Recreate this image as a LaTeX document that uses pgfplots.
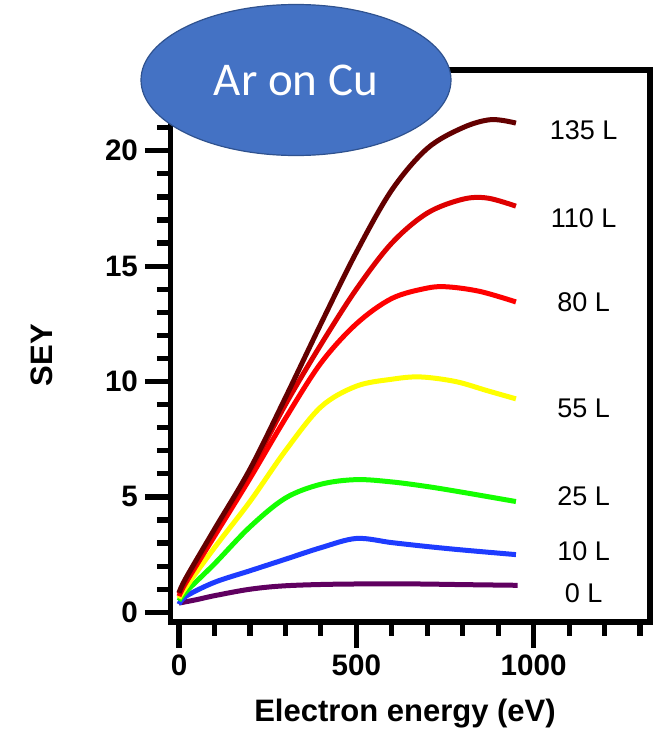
\documentclass[border=0pt]{standalone}
\usepackage{fontspec}
\setmainfont{Liberation Sans}
\newfontfamily\calibri{Carlito}
\usepackage{pgfplots}
\pgfplotsset{compat=1.18}
\definecolor{cA}{RGB}{100,0,0}
\definecolor{cB}{RGB}{222,0,0}
\definecolor{cC}{RGB}{255,0,0}
\definecolor{cD}{RGB}{255,255,0}
\definecolor{cE}{RGB}{20,255,0}
\definecolor{cF}{RGB}{30,60,255}
\definecolor{cG}{RGB}{96,0,96}
\definecolor{ellblue}{RGB}{68,114,196}
\definecolor{elledge}{RGB}{47,82,143}
\begin{document}
\begin{tikzpicture}
\begin{axis}[
  scale only axis, width=239.75pt, height=276pt,
  at={(0,0)}, anchor=south west,
  xmin=-24, xmax=1328, ymin=-0.42, ymax=23.5,
  axis line style={line width=2.6pt},
  xtick={0,500,1000}, minor xtick={100,200,...,1300},
  ytick={0,5,...,20}, minor ytick={1,...,23},
  xtick pos=left, ytick pos=left,
  tick align=outside,
  major tick length=12.75pt, minor tick length=6.75pt,
  every tick/.style={black, line width=2.6pt},
  /pgf/number format/assume math mode=true,
  /pgf/number format/1000 sep={},
  tick label style={font=\bfseries\fontsize{14.8}{15}\selectfont},
  every axis plot/.append style={line width=2.5pt, smooth, tension=0.55},
]
\addplot[cG] coordinates {(0,0.4) (50,0.55) (100,0.72) (200,1.0) (300,1.15) (450,1.22) (650,1.23) (800,1.2) (955,1.17)};
\addplot[cF] coordinates {(0,0.35) (20,0.7) (100,1.3) (200,1.8) (300,2.3) (400,2.8) (500,3.2) (600,3.02) (700,2.85) (800,2.7) (950,2.5)};
\addplot[cE] coordinates {(0,0.5) (20,0.9) (100,2.1) (200,3.7) (300,4.95) (400,5.55) (500,5.75) (600,5.65) (700,5.45) (800,5.2) (950,4.8)};
\addplot[cD] coordinates {(0,0.6) (20,1.1) (100,2.8) (200,4.8) (300,7.0) (400,8.9) (500,9.8) (600,10.1) (680,10.2) (780,10.0) (870,9.6) (950,9.25)};
\addplot[cC] coordinates {(0,0.7) (20,1.3) (100,3.3) (200,5.8) (300,8.4) (400,10.8) (500,12.5) (600,13.6) (700,14.05) (760,14.1) (850,13.9) (950,13.45)};
\addplot[cB] coordinates {(0,0.8) (20,1.4) (100,3.5) (200,6.1) (300,9.0) (400,11.6) (500,14.0) (600,16.0) (700,17.3) (800,17.9) (870,17.95) (950,17.6)};
\addplot[cA] coordinates {(0,0.85) (20,1.5) (100,3.6) (200,6.2) (300,9.3) (400,12.5) (500,15.6) (600,18.3) (700,20.1) (800,21.0) (880,21.35) (950,21.2)};
\begin{scope}[font=\fontsize{13.5}{14}\selectfont]
\node at (axis cs:1141,20.87) {135 L};
\node at (axis cs:1141,17.06) {110 L};
\node at (axis cs:1141,13.42) {80 L};
\node at (axis cs:1141,8.83) {55 L};
\node at (axis cs:1141,5.02) {25 L};
\node at (axis cs:1141,2.64) {10 L};
\node at (axis cs:1141,0.82) {0 L};
\end{scope}
\end{axis}
\node[rotate=90, font=\bfseries\fontsize{15.5}{16}\selectfont] at (-64.25pt,133.5pt) {SEY};
\node[font=\bfseries\fontsize{15.5}{16}\selectfont] at (117.25pt,-46pt) {Electron energy (eV)};
\draw[fill=ellblue, draw=elledge, line width=0.6pt] (62.75pt,271pt) ellipse [x radius=77.5pt, y radius=37.75pt];
\node[text=white, font=\calibri\fontsize{23.5}{24}\selectfont] at (62.75pt,271pt) {Ar on Cu};
\pgfresetboundingbox
\useasboundingbox (-85.25pt,-57pt) rectangle (248.25pt,311pt);
\end{tikzpicture}
\end{document}
